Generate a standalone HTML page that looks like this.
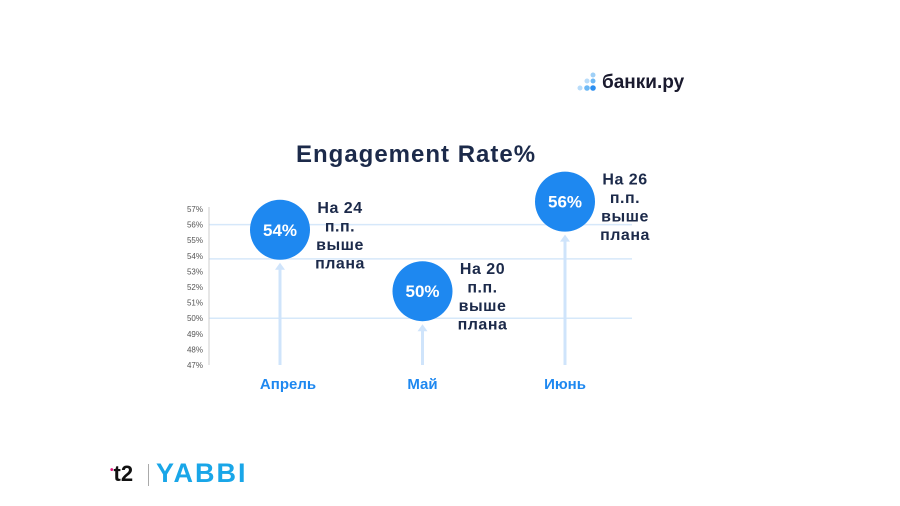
<!DOCTYPE html>
<html><head><meta charset="utf-8"><style>
body{margin:0;width:900px;height:506px;background:#fff;overflow:hidden;font-family:"Liberation Sans","DejaVu Sans",sans-serif;position:relative}
.abs{position:absolute}
</style></head><body>
<div class="abs" style="left:576px;top:70px;width:120px;height:28px">
<svg width="28" height="28" class="abs" style="left:0;top:0">
<circle cx="17" cy="5" r="2.5" fill="#9fd0f7"/><circle cx="17" cy="11" r="2.5" fill="#6cb8f5"/><circle cx="11" cy="11" r="2.5" fill="#b8dcfa"/>
<circle cx="17" cy="18" r="2.8" fill="#2b8ef0"/><circle cx="11" cy="18" r="2.8" fill="#6cb8f5"/><circle cx="4" cy="18" r="2.5" fill="#b8dcfa"/></svg>
<div class="abs" style="left:26px;top:2px;font-size:19px;font-weight:bold;color:#1a1a2e">банки.ру</div>
</div>
<div class="abs" style="left:296px;top:141px;font-size:24px;font-weight:bold;color:#1c2a4a;letter-spacing:1px">Engagement Rate%</div>
<svg id="chart" class="abs" style="left:0;top:0" width="900" height="506"></svg>
<div class="abs" style="left:110px;top:461px;font-size:22px;font-weight:bold;color:#111"><span style="color:#e0167a;font-size:10px;vertical-align:8px">•</span>t2</div>
<div class="abs" style="left:148px;top:464px;width:1px;height:22px;background:#aaa"></div>
<div class="abs" style="left:156px;top:458px;font-size:27px;font-weight:900;color:#19a6e8;letter-spacing:2px">YABBI</div>
<script>
const months=["Апрель","Май","Июнь"];
const values=[54,50,56];
const notes=[["На 24","п.п.","выше","плана"],["На 20","п.п.","выше","плана"],["На 26","п.п.","выше","плана"]];
const ticks=[57,56,55,54,53,52,51,50,49,48,47];
const gridVals=[56,53.8,50];
const NS="http://www.w3.org/2000/svg";
const svg=document.getElementById('chart');
const y=v=>209+(57-v)*15.6;
const x=i=>280+i*142.5;
function mk(t,a){const e=document.createElementNS(NS,t);for(const k in a)e.setAttribute(k,a[k]);svg.appendChild(e);return e;}
gridVals.forEach(g=>{const l=mk('line',{x1:209,x2:632,y1:y(g),y2:y(g),stroke:'#d6e8fa','stroke-width':1.5});

});
const ax=mk('line',{x1:209,x2:209,y1:207,y2:365,stroke:'#ccc','stroke-width':1});


ticks.forEach(t=>{const e=mk('text',{x:203,y:y(t)+3,'text-anchor':'end','font-size':8,fill:'#555'});e.textContent=t+'%';

});
values.forEach((v,i)=>{
 const cx=x(i),cy=y(v)-26+(v<52?-1:0)+(v>55?3:0),r=30;
 const ln=mk('line',{x1:cx,x2:cx,y1:365,y2:cy+r+8,stroke:'#cfe4fb','stroke-width':3});
 
 
 const ah=mk('polygon',{points:`${cx-5},${cy+r+10} ${cx+5},${cy+r+10} ${cx},${cy+r+3}`,fill:'#cfe4fb'});
 
 
 const c=mk('circle',{cx:cx,cy:cy,r:r,fill:'#1e88f0'});
 
 
 const t=mk('text',{x:cx,y:cy+6,'text-anchor':'middle','font-size':17,'font-weight':'bold',fill:'#fff'});t.textContent=v+'%';
 
 
 notes[i].forEach((n,j)=>{const e=mk('text',{x:cx+60,y:cy-17+j*18.5,'text-anchor':'middle','font-size':16,'font-weight':'bold',fill:'#1c2a4a','letter-spacing':0.5});e.textContent=n;
 
 });
 const m=mk('text',{x:cx+(i===0?8:0),y:389,'text-anchor':'middle','font-size':15,'font-weight':'bold',fill:'#1e88f0'});m.textContent=months[i];
 
 
});
</script>
</body></html>
